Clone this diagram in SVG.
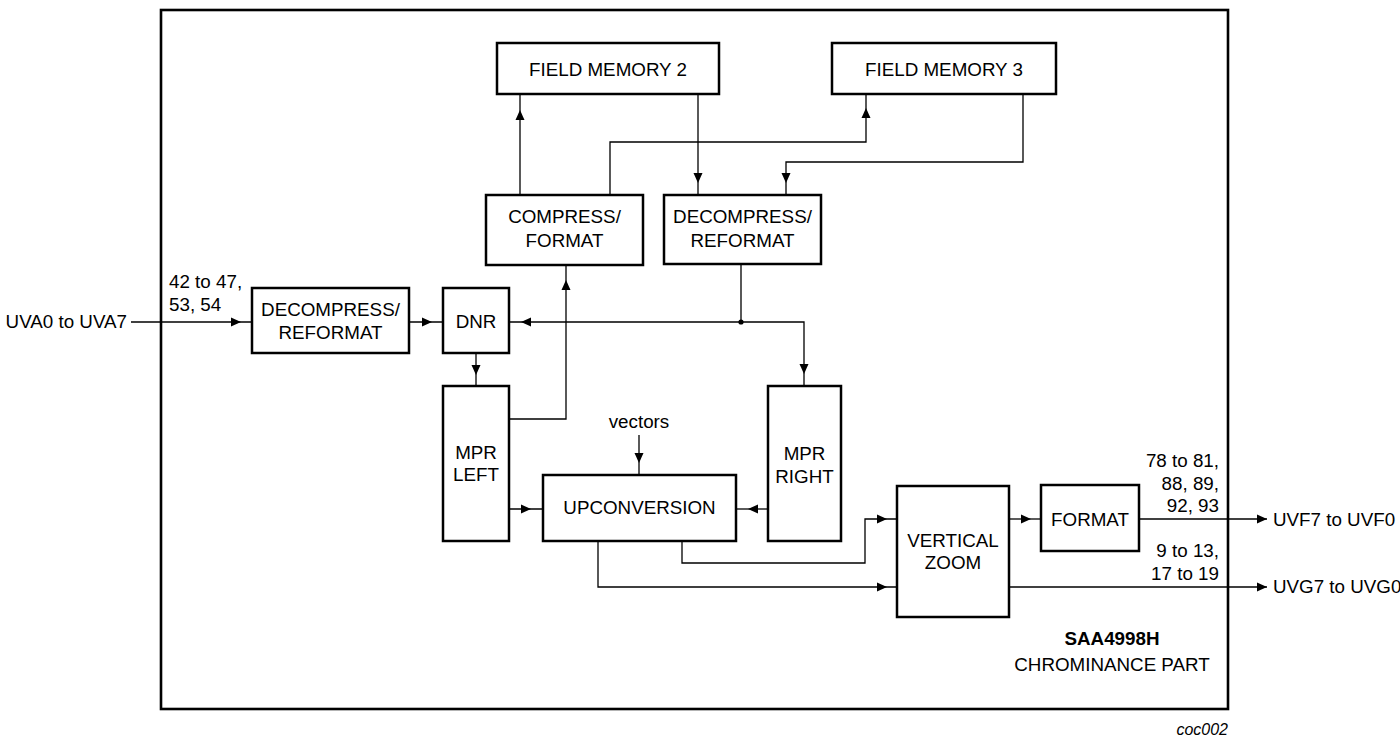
<svg xmlns="http://www.w3.org/2000/svg" xmlns:xlink="http://www.w3.org/1999/xlink" width="1400" height="739" viewBox="0 0 1400 739">
<style>
.box{fill:#fff;stroke:#000;stroke-width:2.5}
.frame{fill:none;stroke:#000;stroke-width:2.6}
.ln{fill:none;stroke:#000;stroke-width:1.3}
.t{font-family:"Liberation Sans",Arial,sans-serif;font-size:18.8px;fill:#000}
.m{text-anchor:middle}
.e{text-anchor:end}
.b{font-weight:bold}
.i{font-style:italic;font-size:16px}
</style>
<defs>
<path id="ah" d="M0,0 L-10,-4.5 L-10,4.5 Z" fill="#000"/>
</defs>
<rect width="1400" height="739" fill="#fff"/>
<rect id="frame" class="frame" x="161" y="10" width="1067" height="699"/>

<g id="connectors">
<path class="ln" d="M520,195 V94"/><use xlink:href="#ah" transform="translate(520,110) rotate(-90)"/>
<path class="ln" d="M610,195 V142 H866 V94"/><use xlink:href="#ah" transform="translate(866,108) rotate(-90)"/>
<path class="ln" d="M698,94 V195"/><use xlink:href="#ah" transform="translate(698,183) rotate(90)"/>
<path class="ln" d="M1023,94 V162 H786 V195"/><use xlink:href="#ah" transform="translate(786,183) rotate(90)"/>
<path class="ln" d="M131,322 H252"/><use xlink:href="#ah" transform="translate(241,322)"/>
<path class="ln" d="M409,322 H443"/><use xlink:href="#ah" transform="translate(432,322)"/>
<path class="ln" d="M741,264 V322 H509"/><use xlink:href="#ah" transform="translate(521,322) rotate(180)"/>
<path class="ln" d="M741,322 H804 V386"/><use xlink:href="#ah" transform="translate(804,374) rotate(90)"/>
<circle cx="741" cy="322" r="2.6" fill="#000"/>
<path class="ln" d="M476,353 V386"/><use xlink:href="#ah" transform="translate(476,375) rotate(90)"/>
<path class="ln" d="M509,419 H566 V265"/><use xlink:href="#ah" transform="translate(566,280) rotate(-90)"/>
<path class="ln" d="M639,435 V475"/><use xlink:href="#ah" transform="translate(639,463) rotate(90)"/>
<path class="ln" d="M509,509 H543"/><use xlink:href="#ah" transform="translate(531,509)"/>
<path class="ln" d="M768,509 H736"/><use xlink:href="#ah" transform="translate(748,509) rotate(180)"/>
<path class="ln" d="M682,541 V563 H865 V519 H897"/><use xlink:href="#ah" transform="translate(887,519)"/>
<path class="ln" d="M598,541 V587 H897"/><use xlink:href="#ah" transform="translate(887,587)"/>
<path class="ln" d="M1009,519 H1041"/><use xlink:href="#ah" transform="translate(1031,519)"/>
<path class="ln" d="M1139,519 H1267"/><use xlink:href="#ah" transform="translate(1267,519)"/>
<path class="ln" d="M1009,587 H1267"/><use xlink:href="#ah" transform="translate(1267,587)"/>
</g>

<g id="fm2"><rect class="box" x="497" y="43" width="222" height="51"/><text class="t m" x="608" y="76">FIELD MEMORY 2</text></g>
<g id="fm3"><rect class="box" x="832" y="43" width="224" height="51"/><text class="t m" x="944" y="76">FIELD MEMORY 3</text></g>
<g id="compress"><rect class="box" x="486" y="195" width="157" height="70"/><text class="t m" x="564.5" y="223">COMPRESS/</text><text class="t m" x="564.5" y="247">FORMAT</text></g>
<g id="decompress2"><rect class="box" x="664" y="195" width="157" height="69"/><text class="t m" x="742.5" y="223">DECOMPRESS/</text><text class="t m" x="742.5" y="247">REFORMAT</text></g>
<g id="decompress1"><rect class="box" x="252" y="288" width="157" height="65"/><text class="t m" x="330.5" y="316">DECOMPRESS/</text><text class="t m" x="330.5" y="339">REFORMAT</text></g>
<g id="dnr"><rect class="box" x="443" y="288" width="66" height="65"/><text class="t m" x="476" y="328">DNR</text></g>
<g id="mprleft"><rect class="box" x="443" y="386" width="66" height="155"/><text class="t m" x="476" y="459">MPR</text><text class="t m" x="476" y="481">LEFT</text></g>
<g id="mprright"><rect class="box" x="768" y="386" width="73" height="155"/><text class="t m" x="804.5" y="460">MPR</text><text class="t m" x="804.5" y="483">RIGHT</text></g>
<g id="upconversion"><rect class="box" x="543" y="475" width="193" height="66"/><text class="t m" x="639.5" y="514">UPCONVERSION</text></g>
<g id="vzoom"><rect class="box" x="897" y="486" width="112" height="131"/><text class="t m" x="953" y="547">VERTICAL</text><text class="t m" x="953" y="569">ZOOM</text></g>
<g id="format"><rect class="box" x="1041" y="485" width="98" height="66"/><text class="t m" x="1090" y="526">FORMAT</text></g>

<g id="labels">
<text class="t e" x="127" y="328">UVA0 to UVA7</text>
<text class="t" x="169" y="288">42 to 47,</text>
<text class="t" x="169" y="311">53, 54</text>
<text class="t m" x="639" y="428">vectors</text>
<text class="t e" x="1219" y="467">78 to 81,</text>
<text class="t e" x="1219" y="490">88, 89,</text>
<text class="t e" x="1219" y="512">92, 93</text>
<text class="t e" x="1219" y="557">9 to 13,</text>
<text class="t e" x="1219" y="580">17 to 19</text>
<text class="t" x="1273" y="526">UVF7 to UVF0</text>
<text class="t" x="1273" y="593">UVG7 to UVG0</text>
<text class="t m b" x="1112" y="645">SAA4998H</text>
<text class="t m" x="1112" y="671">CHROMINANCE PART</text>
<text class="t e i" x="1228" y="735">coc002</text>
</g>
</svg>
